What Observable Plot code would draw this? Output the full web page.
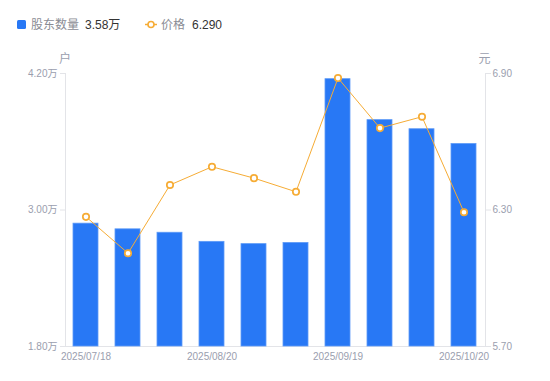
<!DOCTYPE html>
<html>
<head>
<meta charset="utf-8">
<script src="https://cdn.jsdelivr.net/npm/d3@7"></script>
<script src="https://cdn.jsdelivr.net/npm/@observablehq/plot@0.6"></script>
<style>
  html, body { margin: 0; padding: 0; background: #fff; }
  body { width: 550px; height: 381px; overflow: hidden; font-family: "Liberation Sans", "Noto Sans CJK SC", sans-serif; }
  #legend { position: relative; height: 40px; font-size: 12px; }
  #legend span { position: absolute; top: 18px; line-height: 14px; white-space: nowrap; }
  .lab { color: #8a8c94; }
  .val { color: #333; }
</style>
</head>
<body>
<div id="legend"></div>
<div id="chart"></div>
<script>
const dates = ["2025/07/18","2025/07/31","2025/08/10","2025/08/20","2025/08/29","2025/09/10","2025/09/19","2025/09/30","2025/10/10","2025/10/20"];
const holders = [2.88, 2.83, 2.80, 2.72, 2.70, 2.71, 4.15, 3.79, 3.71, 3.58]; // 万户
const prices = [6.27, 6.11, 6.41, 6.49, 6.44, 6.38, 6.88, 6.66, 6.71, 6.29]; // 元
const leftTicks = [1.80, 3.00, 4.20];
const rightTicks = [5.70, 6.30, 6.90];
const xTickLabels = ["2025/07/18","2025/08/20","2025/09/19","2025/10/20"];
const seriesNames = ["股东数量", "价格"];

const blue = "#2878f5";
const orange = "#f6ac35";
const tickColor = "#9a9eae";
const axisColor = "#e3e4e8";

// map price domain onto the holders domain (shared y scale, dual axis)
const pMin = rightTicks[0], pMax = rightTicks[rightTicks.length - 1];
const hMin = leftTicks[0], hMax = leftTicks[leftTicks.length - 1];
const p2h = p => hMin + (p - pMin) * (hMax - hMin) / (pMax - pMin);
const h2p = h => pMin + (h - hMin) * (pMax - pMin) / (hMax - hMin);

const data = dates.map((d, i) => ({date: d, holders: holders[i], price: prices[i], py: p2h(prices[i])}));

// legend
const legend = document.getElementById("legend");
legend.innerHTML = `
  <svg width="11" height="11" style="position:absolute;left:16px;top:19px"><rect x="1" y="1" width="9" height="9" rx="1.5" fill="${blue}"/></svg>
  <span class="lab" style="left:31px">${seriesNames[0]}</span>
  <span class="val" style="left:85px">${holders[holders.length-1].toFixed(2)}万</span>
  <svg width="14" height="11" style="position:absolute;left:144px;top:19px"><line x1="1" x2="13" y1="5.5" y2="5.5" stroke="${orange}" stroke-width="1.5"/><circle cx="7" cy="5.5" r="3" fill="#fff" stroke="${orange}" stroke-width="1.6"/></svg>
  <span class="lab" style="left:161px">${seriesNames[1]}</span>
  <span class="val" style="left:192px">${prices[prices.length-1].toFixed(3)}</span>
`;

const chart = Plot.plot({
  width: 550,
  height: 341,
  marginTop: 33,
  marginBottom: 35,
  marginLeft: 65,
  marginRight: 65,
  style: {fontFamily: '"Liberation Sans", "Noto Sans CJK SC", sans-serif', fontSize: "10px", background: "#fff"},
  x: {domain: dates, paddingInner: 0.4, paddingOuter: 0.2},
  y: {domain: [hMin, hMax]},
  marks: [
    Plot.frame({anchor: "left", stroke: axisColor}),
    Plot.frame({anchor: "right", stroke: axisColor}),
    Plot.frame({anchor: "bottom", stroke: axisColor}),
    Plot.barY(data, {x: "date", y1: hMin, y2: "holders", fill: blue, stroke: "#5d9af7", strokeWidth: 0.8, inset: 0}),
    Plot.line(data, {x: "date", y: "py", stroke: orange, strokeWidth: 1}),
    Plot.dot(data, {x: "date", y: "py", r: 3.2, fill: "#fff", stroke: orange, strokeWidth: 1.7}),
    Plot.axisY({anchor: "left", ticks: leftTicks, tickSize: 5, tickPadding: 3, stroke: axisColor, fill: tickColor, tickFormat: d => d.toFixed(2) + "万", label: null}),
    Plot.axisY({anchor: "right", ticks: leftTicks, tickSize: 5, tickPadding: 2, stroke: axisColor, fill: tickColor, tickFormat: d => h2p(d).toFixed(2), label: null}),
    Plot.axisX({ticks: xTickLabels, tickSize: 0, tickPadding: 6, fill: tickColor, label: null}),
    Plot.text(["户"], {frameAnchor: "top-left", lineAnchor: "middle", dx: -6.5, dy: -14, fill: tickColor, fontSize: 12}),
    Plot.text(["元"], {frameAnchor: "top-right", lineAnchor: "middle", dx: 5, dy: -14, fill: tickColor, fontSize: 12})
  ]
});
document.getElementById("chart").appendChild(chart);
</script>
</body>
</html>
